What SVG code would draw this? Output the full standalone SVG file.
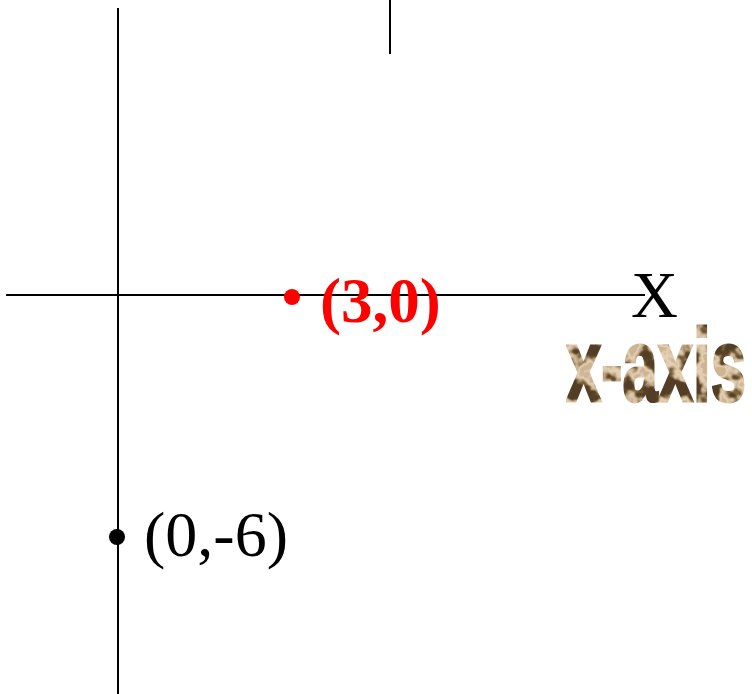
<svg xmlns="http://www.w3.org/2000/svg" width="752" height="694" viewBox="0 0 752 694">
  <style>
    .axis { stroke: #000; stroke-width: 2; fill: none; }
    .lbl { font-family: "Liberation Serif", "Times New Roman", serif; }
  </style>
  <defs>
    <filter id="tex" x="0" y="0" width="100%" height="100%">
      <feTurbulence type="fractalNoise" baseFrequency="0.05" numOctaves="3" seed="7" result="n"/>
      <feColorMatrix in="n" type="matrix" values="3.2 0 0 0 -1.1  3.2 0 0 0 -1.1  3.2 0 0 0 -1.1  0 0 0 0 1" result="g"/>
      <feComponentTransfer in="g" result="c">
        <feFuncR type="table" tableValues="0.09 0.10 0.22 0.50 0.70 0.80 0.62"/>
        <feFuncG type="table" tableValues="0.05 0.06 0.14 0.37 0.55 0.64 0.46"/>
        <feFuncB type="table" tableValues="0.02 0.02 0.06 0.22 0.38 0.46 0.30"/>
      </feComponentTransfer>
      <feComposite in="c" in2="SourceGraphic" operator="in"/>
    </filter>
  </defs>
  <rect width="752" height="694" fill="#fff"/>
  <g id="connectors">
    <line class="axis" x1="6" y1="295" x2="645" y2="295"/>
    <line class="axis" x1="118" y1="8" x2="118" y2="694"/>
    <line class="axis" x1="390" y1="0" x2="390" y2="54"/>
  </g>
  <g id="point-3-0">
    <circle cx="292" cy="297" r="8" fill="#ff0000"/>
    <text class="lbl" x="320" y="322" font-size="63" font-weight="bold" fill="#ff0000">(3,0)</text>
  </g>
  <g id="point-0-6">
    <circle cx="117" cy="537" r="8" fill="#000"/>
    <text class="lbl" x="144" y="556" font-size="64" fill="#000">(0,-6)</text>
  </g>
  <g id="x-label">
    <text class="lbl" x="631" y="317" font-size="65" fill="#000">X</text>
  </g>
  <g id="x-axis-label">
    <text x="566" y="401" font-family="Liberation Sans, Arial, sans-serif" font-weight="bold" font-size="104" textLength="180" lengthAdjust="spacingAndGlyphs" fill="#8a6a45" stroke="#8a6a45" stroke-width="3" filter="url(#tex)">x-axis</text>
  </g>
</svg>
